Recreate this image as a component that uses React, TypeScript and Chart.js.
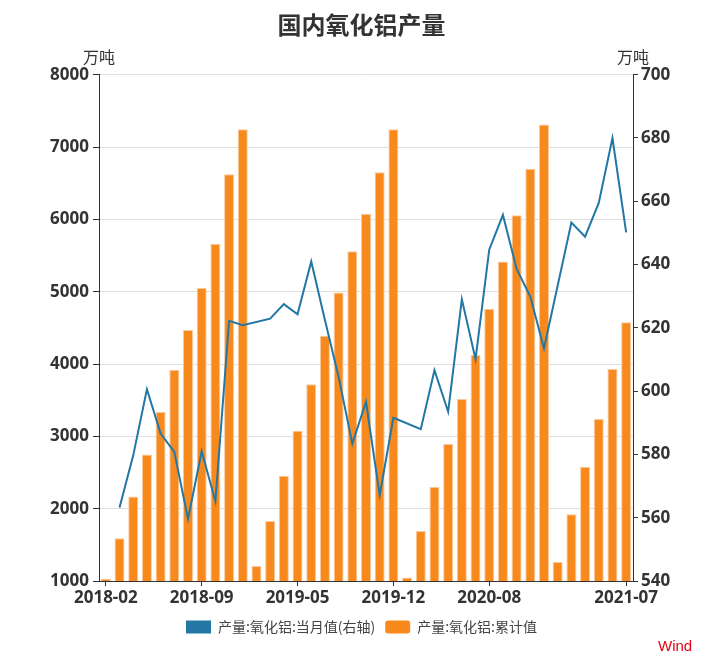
import React, { useEffect, useRef } from "react";
import { Chart, registerables } from "chart.js";

Chart.register(...registerables);

const categories = [
  "2018-02", "2018-03", "2018-04", "2018-05", "2018-06", "2018-07", "2018-08", "2018-09", "2018-10", "2018-11", "2018-12",
  "2019-02", "2019-03", "2019-04", "2019-05", "2019-06", "2019-07", "2019-08", "2019-09", "2019-10", "2019-11", "2019-12",
  "2020-02", "2020-03", "2020-04", "2020-05", "2020-06", "2020-07", "2020-08", "2020-09", "2020-10", "2020-11", "2020-12",
  "2021-02", "2021-03", "2021-04", "2021-05", "2021-06", "2021-07",
];

const monthlyValues = [
  null, 563.2, 579.7, 600.6, 586.6, 580.8, 559.6, 581.0, 565.2, 622.2, 620.8,
  null, 622.9, 627.5, 624.3, 641.0, 622.5, 604.5, 583.4, 596.6, 567.1, 591.6,
  null, 588.0, 606.6, 593.5, 629.0, 610.1, 644.7, 655.7, 638.6, 629.9, 613.5,
  null, 653.3, 648.8, 659.5, 680.0, 650.2,
];

const cumulativeValues = [
  1030, 1590, 2170, 2750, 3335, 3920, 4470, 5050, 5660, 6625, 7245,
  1207, 1830, 2455, 3077, 3720, 4390, 4990, 5560, 6076, 6650, 7247,
  1050, 1691, 2299, 2893, 3515, 4123, 4763, 5418, 6058, 6698, 7311,
  1263, 1923, 2580, 3239, 3930, 4579,
];

const shownTickLabels = ["2018-02", "2018-09", "2019-05", "2019-12", "2020-08", "2021-07"];

const seriesNames = ["产量:氧化铝:当月值(右轴)", "产量:氧化铝:累计值"];
const seriesColors = ["#2277a5", "#f7891d"];
const titleText = "国内氧化铝产量";
const unitText = "万吨";
const sourceText = "Wind";

export default function App() {
  const canvasRef = useRef<HTMLCanvasElement | null>(null);

  useEffect(() => {
    document.body.style.margin = "0";
    const canvas = canvasRef.current;
    if (!canvas) return;
    const tickFont = { family: "'Noto Sans', sans-serif", size: 17, weight: "bold" as const };
    const isShown = (i: number) => shownTickLabels.includes(categories[i]);
    const chart = new Chart(canvas, {
      data: {
        labels: categories,
        datasets: [
          {
            type: "line",
            label: seriesNames[0],
            data: monthlyValues,
            yAxisID: "y2",
            borderColor: seriesColors[0],
            backgroundColor: seriesColors[0],
            borderWidth: 2,
            pointRadius: 0,
            spanGaps: true,
            tension: 0,
          },
          {
            type: "bar",
            label: seriesNames[1],
            data: cumulativeValues,
            yAxisID: "y",
            backgroundColor: seriesColors[1],
            borderColor: "#fbc89a",
            borderWidth: 1,
            barPercentage: 0.73,
            categoryPercentage: 1,
          },
        ],
      } as any,
      options: {
        responsive: false,
        animation: false,
        layout: { padding: { top: 0, left: 0, right: 0, bottom: 21 } },
        plugins: {
          tooltip: { enabled: false },
          title: {
            display: true,
            text: titleText,
            color: "#333",
            font: { family: "'Noto Sans CJK SC', sans-serif", size: 24, weight: "bold" },
            padding: { top: 10.6, bottom: 35.3 },
          },
          legend: {
            position: "bottom",
            labels: {
              boxWidth: 25,
              boxHeight: 13,
              padding: 10,
              color: "#444",
              useBorderRadius: true,
              font: { family: "'Noto Sans CJK SC', sans-serif", size: 14 },
              generateLabels: (ch: any) =>
                ch.data.datasets.map((ds: any, i: number) => ({
                  text: ds.label,
                  fillStyle: seriesColors[i],
                  strokeStyle: seriesColors[i],
                  lineWidth: 0,
                  hidden: false,
                  datasetIndex: i,
                  borderRadius: i === 1 ? 3 : 0,
                  fontColor: "#444",
                })),
            },
          },
        },
        scales: {
          x: {
            type: "category",
            offset: true,
            afterFit: (s: any) => { s.height = 29; },
            grid: {
              offset: false,
              drawOnChartArea: false,
              drawTicks: true,
              tickLength: 5,
              tickColor: (ctx: any) => (isShown(ctx.index) ? "#333" : "rgba(0,0,0,0)"),
            },
            border: { display: true, color: "#333", width: 1 },
            ticks: {
              autoSkip: false,
              maxRotation: 0,
              minRotation: 0,
              padding: 2,
              color: "#333",
              font: tickFont,
              callback: (_v: any, i: number) => (isShown(i) ? categories[i] : ""),
            },
          },
          y: {
            position: "left",
            min: 1000,
            max: 8000,
            afterFit: (s: any) => { s.width = 99; },
            grid: { color: "#e0e0e0", tickColor: "#333", tickLength: 6, lineWidth: 1 },
            border: { display: true, color: "#333", width: 1 },
            ticks: {
              stepSize: 1000,
              padding: 4,
              color: "#333",
              font: tickFont,
              callback: (v: any) => String(v),
            },
          },
          y2: {
            position: "right",
            min: 540,
            max: 700,
            afterFit: (s: any) => { s.width = 90; },
            grid: { drawOnChartArea: false, tickColor: "#333", tickLength: 5 },
            border: { display: true, color: "#333", width: 1 },
            ticks: { stepSize: 20, padding: 3, color: "#333", font: tickFont, callback: (v: any) => String(v) },
          },
        },
      } as any,
    });
    return () => chart.destroy();
  }, []);

  const unitStyle: React.CSSProperties = {
    position: "absolute",
    top: 48,
    fontFamily: "'Noto Sans CJK SC', sans-serif",
    fontSize: 16,
    lineHeight: "16px",
    color: "#333",
    whiteSpace: "nowrap",
  };

  return (
    <div style={{ position: "relative", width: 723, height: 665, background: "#fff", overflow: "hidden" }}>
      <canvas ref={canvasRef} width={723} height={665} style={{ display: "block" }} />
      <div style={{ ...unitStyle, left: 83 }}>{unitText}</div>
      <div style={{ ...unitStyle, left: 617 }}>{unitText}</div>
      <div
        style={{
          position: "absolute",
          left: 658,
          top: 638,
          fontFamily: "'Liberation Sans', Arial, sans-serif",
          fontSize: 15,
          lineHeight: "15px",
          color: "#e60012",
        }}
      >
        {sourceText}
      </div>
    </div>
  );
}
